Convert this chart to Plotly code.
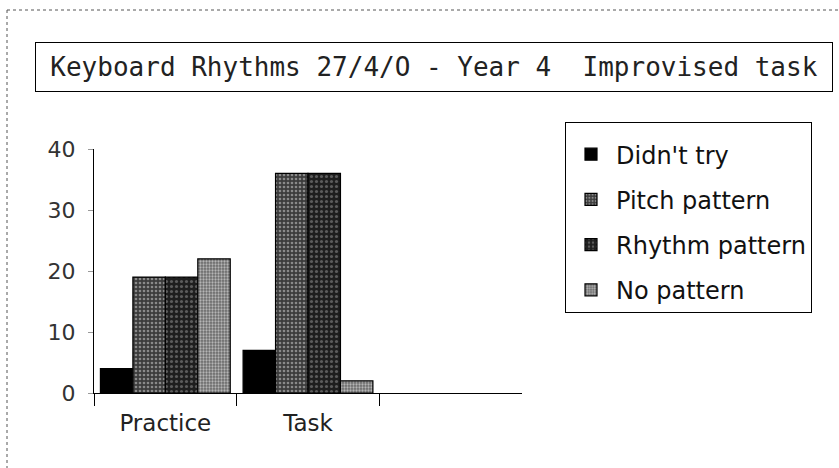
import plotly.graph_objects as go

categories = ["Practice", "Task"]
series_names = ["Didn't try", "Pitch pattern", "Rhythm pattern", "No pattern"]
didnt_try = [4, 7]
pitch_pattern = [19, 36]
rhythm_pattern = [19, 36]
no_pattern = [22, 2]
y_ticks = [0, 10, 20, 30, 40]
title_text = "Keyboard Rhythms 27/4/O - Year 4  Improvised task"

values = [didnt_try, pitch_pattern, rhythm_pattern, no_pattern]
styles = [
    dict(color="#000000", pattern=None),
    dict(color="#3c3c3c", pattern=dict(shape=".", fgcolor="#d8d8d8", size=4, solidity=0.35, fillmode="overlay")),
    dict(color="#1e1e1e", pattern=dict(shape=".", fgcolor="#9a9a9a", size=5, solidity=0.3, fillmode="overlay")),
    dict(color="#6a6a6a", pattern=dict(shape=".", fgcolor="#ffffff", size=3, solidity=0.45, fillmode="overlay")),
]

fig = go.Figure()
for name, vals, st in zip(series_names, values, styles):
    marker = dict(color=st["color"], line=dict(color="#000000", width=1.2))
    if st["pattern"]:
        marker["pattern"] = st["pattern"]
    fig.add_trace(go.Bar(name=name, x=categories, y=vals, marker=marker, legendgroup=name))

W, H = 839, 468
L, R, T, B = 94, 317, 149, 75
pw, ph = W - L - R, H - T - B

def px(xp):
    return (xp - L) / pw

def py(yp):
    return (H - B - yp) / ph

fig.update_layout(
    width=W, height=H,
    margin=dict(l=L, r=R, t=T, b=B, pad=0),
    paper_bgcolor="white", plot_bgcolor="white",
    barmode="group", bargap=0.09, bargroupgap=0,
    font=dict(family="DejaVu Sans", color="#222222"),
    legend=dict(
        x=px(565), y=py(122), xanchor="left", yanchor="top",
        bordercolor="#000000", borderwidth=1,
        font=dict(size=24, family="DejaVu Sans", color="#111111"),
        traceorder="grouped", tracegroupgap=11, itemwidth=40,
        bgcolor="white",
        title=dict(text=" ", font=dict(size=7)),
    ),
    xaxis=dict(
        type="category", range=[-0.5, 2.5],
        showline=True, linecolor="#000000", linewidth=1,
        ticks="outside", tickson="boundaries", ticklen=12, tickcolor="#000000",
        tickfont=dict(size=23, color="#222222"),
        ticklabelstandoff=9,
        showgrid=False, zeroline=False,
    ),
    yaxis=dict(
        range=[0, 40], tickvals=y_ticks,
        showline=True, linecolor="#000000", linewidth=1,
        ticks="outside", ticklen=5, tickcolor="#999999",
        tickfont=dict(size=22, color="#333333"),
        ticklabelstandoff=8,
        showgrid=False, zeroline=False,
    ),
    annotations=[dict(
        text=title_text, xref="paper", yref="paper",
        x=px(35), y=py(66.5), xanchor="left", yanchor="middle",
        showarrow=False, width=792, height=44, align="center",
        bordercolor="#000000", borderwidth=1, borderpad=2,
        font=dict(family="DejaVu Sans Mono", size=26, color="#222222"),
    )],
    shapes=[
        dict(type="line", xref="paper", yref="paper", x0=px(7), x1=px(W), y0=py(10), y1=py(10),
             line=dict(color="#555555", width=1, dash="dot")),
        dict(type="line", xref="paper", yref="paper", x0=px(7), x1=px(7), y0=py(10), y1=py(H),
             line=dict(color="#555555", width=1, dash="dot")),
    ],
)

fig.write_html("out.html", config={"displayModeBar": False},
               post_script="document.body.style.margin='0';")
